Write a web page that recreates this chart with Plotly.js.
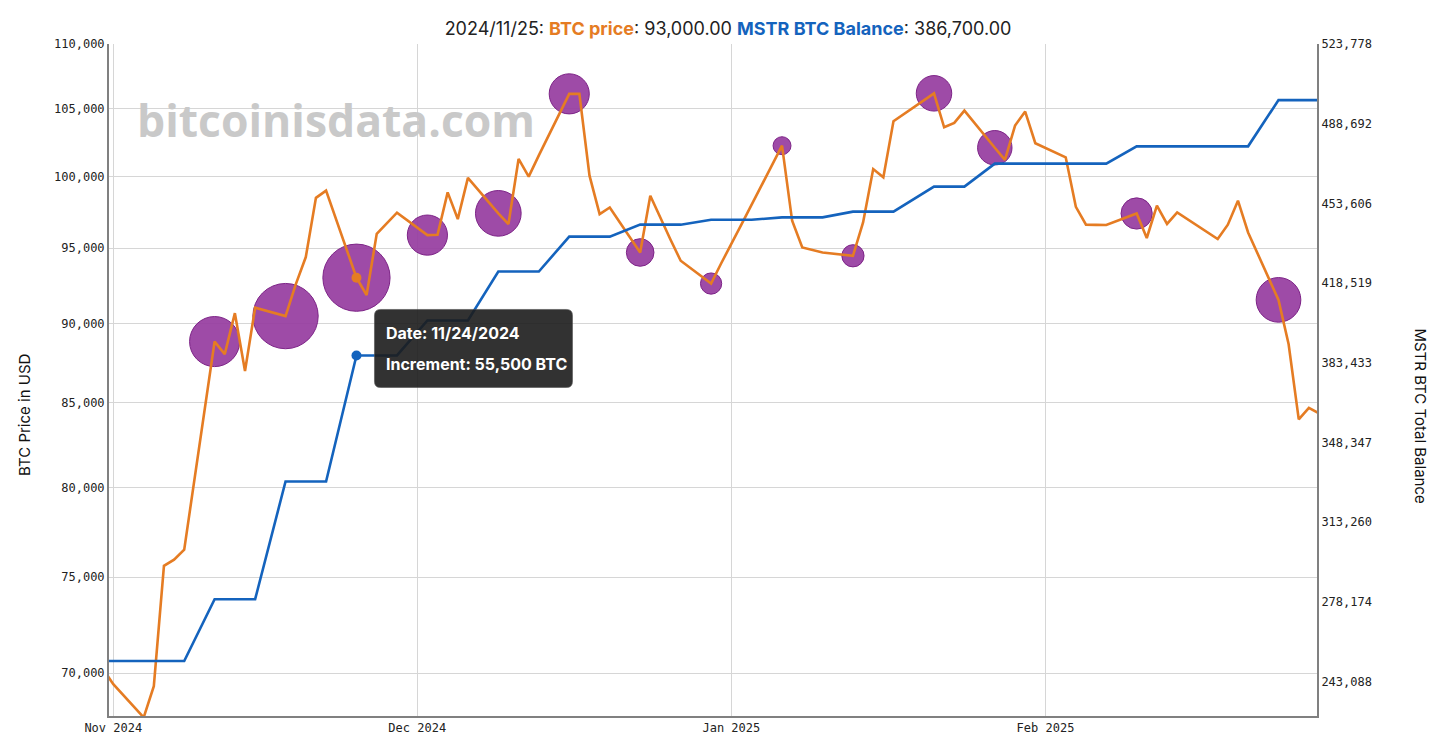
<!DOCTYPE html>
<html>
<head>
<meta charset="utf-8">
<script src="https://cdn.plot.ly/plotly-3.0.1.min.js"></script>
<style>
  html, body { margin: 0; padding: 0; background: #fff; }
  #chart { width: 1456px; height: 739px; }
</style>
</head>
<body>
<div id="chart"></div>
<script>
// Trading days shown on the chart (weekends and US market holidays skipped).
const dates = [
  '2024-10-31', '2024-11-01', '2024-11-04', '2024-11-05', '2024-11-06', '2024-11-07', '2024-11-08',
  '2024-11-11', '2024-11-12', '2024-11-13', '2024-11-14', '2024-11-15',
  '2024-11-18', '2024-11-19', '2024-11-20', '2024-11-21', '2024-11-22',
  '2024-11-25', '2024-11-26', '2024-11-27', '2024-11-29',
  '2024-12-02', '2024-12-03', '2024-12-04', '2024-12-05', '2024-12-06',
  '2024-12-09', '2024-12-10', '2024-12-11', '2024-12-12', '2024-12-13',
  '2024-12-16', '2024-12-17', '2024-12-18', '2024-12-19', '2024-12-20',
  '2024-12-23', '2024-12-24', '2024-12-26', '2024-12-27',
  '2024-12-30', '2024-12-31', '2025-01-02', '2025-01-03',
  '2025-01-06', '2025-01-07', '2025-01-08', '2025-01-10',
  '2025-01-13', '2025-01-14', '2025-01-15', '2025-01-16', '2025-01-17',
  '2025-01-21', '2025-01-22', '2025-01-23', '2025-01-24',
  '2025-01-27', '2025-01-28', '2025-01-29', '2025-01-30', '2025-01-31',
  '2025-02-03', '2025-02-04', '2025-02-05', '2025-02-06', '2025-02-07',
  '2025-02-10', '2025-02-11', '2025-02-12', '2025-02-13', '2025-02-14',
  '2025-02-18', '2025-02-19', '2025-02-20', '2025-02-21',
  '2025-02-24', '2025-02-25', '2025-02-26', '2025-02-27', '2025-02-28'
];

// BTC close in USD, one value per trading day above.
const btcPrice = [
  70200, 69450, 67810, 69350, 75610, 75950, 76500,
  88830, 88030, 90660, 86970, 91020,
  90470, 92540, 94390, 98490, 99000,
  93000, 91850, 95980, 97450,
  95890, 95910, 98880, 97000, 99910,
  97400, 96650, 101280, 100000, 101540,
  106130, 106130, 100070, 97350, 97815,
  94700, 98640, 95570, 94140,
  92610, 93970, 96630, 97990,
  102250, 96880, 95040, 94700,
  94475, 96770, 100550, 99950, 104060,
  106170, 103610, 103940, 104860,
  102100, 101210, 103740, 104790, 102430,
  101400, 97860, 96610, 96600, 96590,
  97390, 95690, 97935, 96660, 97465,
  95620, 96610, 98290, 96070,
  91530, 88660, 84000, 84700, 84370
];

// MSTR total BTC balance, one value per trading day above.
const mstrBalance = [
  252220, 252220, 252220, 252220, 252220, 252220, 252220,
  279420, 279420, 279420, 279420, 279420,
  331200, 331200, 331200, 331200, 331200,
  386700, 386700, 386700, 386700,
  402100, 402100, 402100, 402100, 402100,
  423650, 423650, 423650, 423650, 423650,
  439000, 439000, 439000, 439000, 439000,
  444262, 444262, 444262, 444262,
  446400, 446400, 446400, 446400,
  447470, 447470, 447470, 447470,
  450000, 450000, 450000, 450000, 450000,
  461000, 461000, 461000, 461000,
  471107, 471107, 471107, 471107, 471107,
  471107, 471107, 471107, 471107, 471107,
  478740, 478740, 478740, 478740, 478740,
  478740, 478740, 478740, 478740,
  499096, 499096, 499096, 499096, 499096
];

// Purchase events (bubbles), sized by the BTC bought.
const buyDates = [
  '2024-11-11', '2024-11-18', '2024-11-25', '2024-12-02', '2024-12-09', '2024-12-16', '2024-12-23',
  '2024-12-30', '2025-01-06', '2025-01-13', '2025-01-21', '2025-01-27', '2025-02-10', '2025-02-24'
];
const buyAmount = [27200, 51780, 55500, 15400, 21550, 15350, 5262, 2138, 1070, 2530, 11000, 10107, 7633, 20356];

// Axis ticks.
const monthTicks = ['2024-11-01', '2024-12-01', '2025-01-01', '2025-02-01'];
const priceTicks = [70000, 75000, 80000, 85000, 90000, 95000, 100000, 105000, 110000];
const balanceTicks = [243088, 278174, 313260, 348347, 383433, 418519, 453606, 488692, 523778];

// The point that is hovered in the picture.
const hoverDate = '2024-11-25';
const hoverLabelDate = '11/24/2024';

const ORANGE = '#e57c23';
const BLUE = '#1463bd';
const MONO = 'DejaVu Sans Mono, monospace';
const SANS = 'Inter, Noto Sans, sans-serif';

function fmt(v, digits) {
  return v.toLocaleString('en-US', { minimumFractionDigits: digits, maximumFractionDigits: digits });
}

function renderChart() {
  const buyPrice = buyDates.map(d => btcPrice[dates.indexOf(d)]);
  const hoverIdx = dates.indexOf(hoverDate);
  const hoverBuy = buyDates.indexOf(hoverDate);

  // opacity 1 so plotly's bubble default (0.7) doesn't wash the colour out
  const bubbles = {
    x: buyDates, y: buyPrice, type: 'scatter', mode: 'markers', yaxis: 'y',
    marker: {
      size: buyAmount.map(a => 10 + 0.243 * Math.sqrt(a)),
      color: 'rgba(150,60,160,0.92)', opacity: 1,
      line: { color: 'rgb(125,35,135)', width: 1 }
    }
  };

  const balanceLine = {
    x: dates, y: mstrBalance, type: 'scatter', mode: 'lines', yaxis: 'y2',
    line: { color: BLUE, width: 2.6 }
  };

  const priceLine = {
    x: dates, y: btcPrice, type: 'scatter', mode: 'lines', yaxis: 'y',
    line: { color: ORANGE, width: 2.6 }
  };

  // Highlight dots at the hovered date.
  const priceDot = {
    x: [hoverDate], y: [btcPrice[hoverIdx]], type: 'scatter', mode: 'markers', yaxis: 'y',
    marker: { color: ORANGE, size: 10 }
  };
  const balanceDot = {
    x: [hoverDate], y: [mstrBalance[hoverIdx]], type: 'scatter', mode: 'markers', yaxis: 'y2',
    marker: { color: BLUE, size: 10 }
  };

  const titleText = hoverDate.replace(/-/g, '/') + ': ' +
    `<b><span style="color:${ORANGE}">BTC price</span></b>: ${fmt(btcPrice[hoverIdx], 2)} ` +
    `<b><span style="color:${BLUE}">MSTR BTC Balance</span></b>: ${fmt(mstrBalance[hoverIdx], 2)}`;

  // Rounded tooltip box, in pixels relative to the hovered balance point.
  const bx0 = 18, bx1 = 216, by0 = -32, by1 = 46, r = 6;
  const boxPath = `M ${bx0 + r},${by1} L ${bx1 - r},${by1} Q ${bx1},${by1} ${bx1},${by1 - r} ` +
    `L ${bx1},${by0 + r} Q ${bx1},${by0} ${bx1 - r},${by0} L ${bx0 + r},${by0} ` +
    `Q ${bx0},${by0} ${bx0},${by0 + r} L ${bx0},${by1 - r} Q ${bx0},${by1} ${bx0 + r},${by1} Z`;

  const axisCommon = {
    showline: true, linecolor: '#808080', linewidth: 2, ticks: '',
    tickfont: { family: MONO, size: 12, color: '#222' }, zeroline: false
  };

  const layout = {
    width: 1456, height: 739,
    margin: { l: 109, r: 139, t: 44, b: 23, pad: 0 },
    paper_bgcolor: '#fff', plot_bgcolor: '#fff',
    showlegend: false, hovermode: false,
    title: {
      text: titleText, x: 0.5, xanchor: 'center', y: 1 - 29 / 739, yanchor: 'middle',
      font: { family: SANS, size: 18, color: '#222' }
    },
    xaxis: Object.assign({}, axisCommon, {
      type: 'date', range: ['2024-10-31 13:50', '2025-02-27 19:12'],
      tickvals: monthTicks, tickformat: '%b %Y',
      showgrid: true, gridcolor: '#d6d6d6', gridwidth: 1
    }),
    yaxis: Object.assign({}, axisCommon, {
      type: 'log', range: [Math.log10(67880), Math.log10(110000)],
      tickvals: priceTicks, tickformat: ',',
      showgrid: true, gridcolor: '#d6d6d6', gridwidth: 1
    }),
    yaxis2: Object.assign({}, axisCommon, {
      overlaying: 'y', side: 'right', range: [228000, 523778],
      tickvals: balanceTicks, tickformat: ',', showgrid: false
    }),
    shapes: [{
      type: 'path', layer: 'above',
      xref: 'x', yref: 'y2', xsizemode: 'pixel', ysizemode: 'pixel',
      xanchor: hoverDate, yanchor: mstrBalance[hoverIdx],
      path: boxPath, fillcolor: 'rgba(28,28,28,0.9)', line: { color: 'rgba(80,80,80,0.6)', width: 1 }
    }],
    annotations: [
      {
        text: 'bitcoinisdata.com', xref: 'paper', yref: 'paper', x: 0.1875, y: 0.887,
        xanchor: 'center', yanchor: 'middle', showarrow: false,
        font: { family: 'Open Sans, sans-serif', size: 44.5, color: '#c9c9c9', weight: 700 }
      },
      {
        text: 'BTC Price in USD', xref: 'paper', yref: 'paper', x: -0.0695, y: 0.448,
        xanchor: 'center', yanchor: 'middle', textangle: -90, showarrow: false,
        font: { family: SANS, size: 15, color: '#111' }
      },
      {
        text: 'MSTR BTC Total Balance', xref: 'paper', yref: 'paper', x: 1.086, y: 0.446,
        xanchor: 'center', yanchor: 'middle', textangle: 90, showarrow: false,
        font: { family: SANS, size: 15, color: '#111' }
      },
      {
        text: '<b>Date: ' + hoverLabelDate + '</b>', x: hoverDate, y: mstrBalance[hoverIdx], yref: 'y2',
        xanchor: 'left', yanchor: 'middle', xshift: 28, yshift: 22, showarrow: false,
        font: { family: SANS, size: 16, color: '#fff' }
      },
      {
        text: '<b>Increment: ' + fmt(buyAmount[hoverBuy], 0) + ' BTC</b>', x: hoverDate, y: mstrBalance[hoverIdx], yref: 'y2',
        xanchor: 'left', yanchor: 'middle', xshift: 28, yshift: -9, showarrow: false,
        font: { family: SANS, size: 16, color: '#fff' }
      }
    ]
  };

  Plotly.newPlot('chart', [bubbles, balanceLine, priceLine, priceDot, balanceDot], layout,
    { displayModeBar: false, staticPlot: true });
}

renderChart();
</script>
</body>
</html>
